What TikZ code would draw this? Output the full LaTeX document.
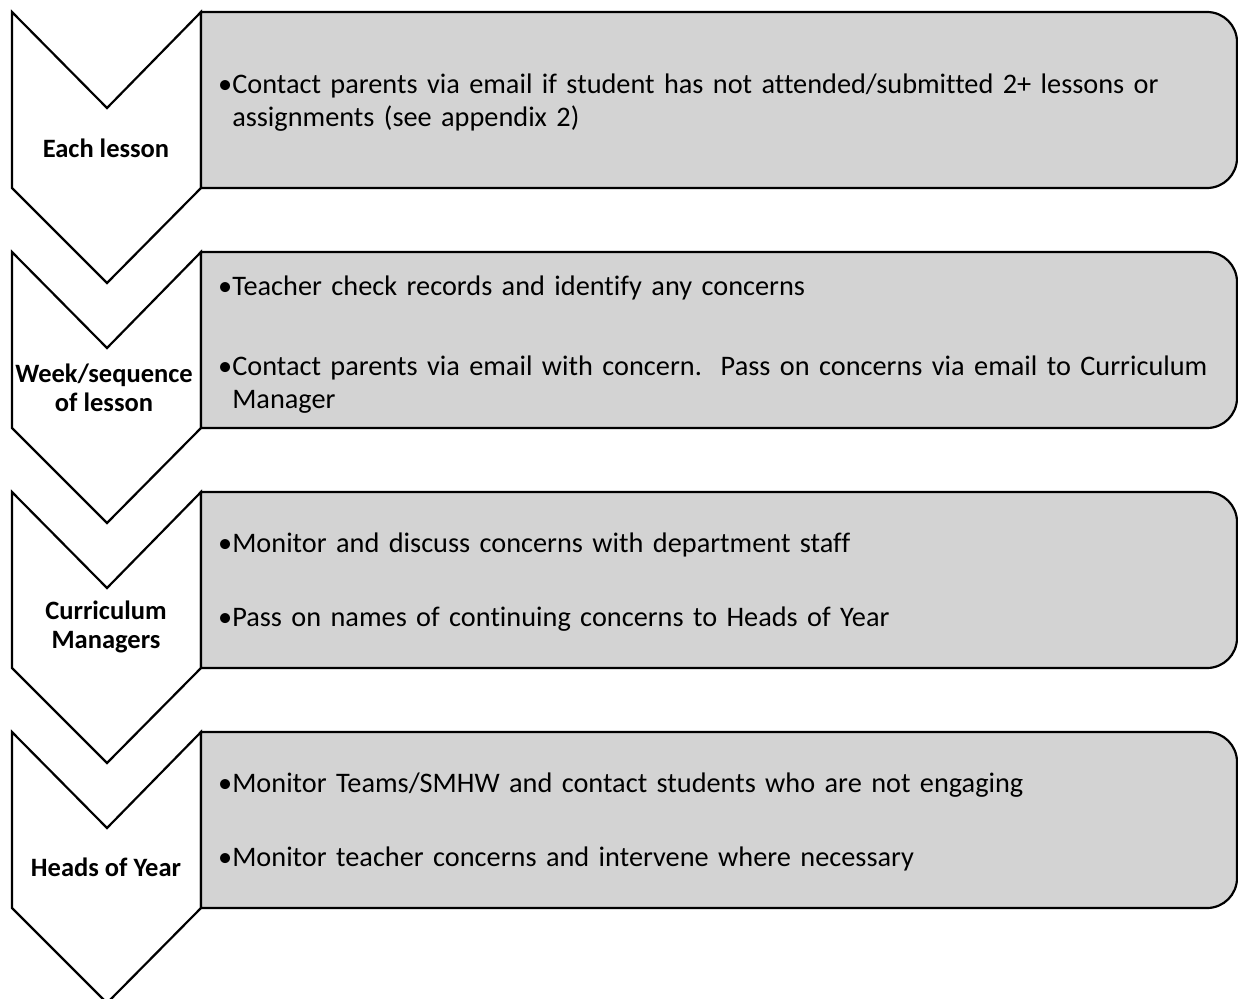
\documentclass[tikz,border=0pt]{standalone}
\usepackage{fontspec}
\setmainfont{Carlito}[Ligatures=NoCommon]
\usepackage{tikz}
\definecolor{panelgray}{RGB}{211,211,211}
\newcommand{\pointfont}{\fontsize{28.3}{33}\selectfont\frenchspacing\spaceskip=.3333em\relax}
\tikzstyle{chev}=[draw, line width=2.2pt, fill=white, line join=miter]
\tikzstyle{panel}=[draw, line width=2.2pt, fill=panelgray]
\tikzstyle{stage}=[align=center, inner sep=0pt, font=\bfseries\fontsize{26.5}{29}\selectfont]
\tikzstyle{point}=[anchor=base west, inner sep=0pt, font=\pointfont]
\newcommand{\bulletpt}[1]{\begin{tabular}[t]{@{}l@{}l@{}}\textbullet&#1\end{tabular}}

\begin{document}
\begin{tikzpicture}[x=1pt,y=-1pt]
\useasboundingbox (0,0) rectangle (1238,998);

% chevrons down the left
\draw[chev] (12,12) -- (107,108) -- (201,12) -- (201,188) -- (107,283) -- (12,188) -- cycle;
\draw[chev] (12,252) -- (107,348) -- (201,252) -- (201,428) -- (107,523) -- (12,428) -- cycle;
\draw[chev] (12,492) -- (107,588) -- (201,492) -- (201,668) -- (107,763) -- (12,668) -- cycle;
\draw[chev] (12,732) -- (107,828) -- (201,732) -- (201,908) -- (107,1003) -- (12,908) -- cycle;

% grey panels, right side rounded
\draw[panel] (201,12) -- (1207,12) .. controls (1223.6,12) and (1237,25.4) .. (1237,42)
  -- (1237,158) .. controls (1237,174.6) and (1223.6,188) .. (1207,188) -- (201,188) -- cycle;
\draw[panel] (201,252) -- (1207,252) .. controls (1223.6,252) and (1237,265.4) .. (1237,282)
  -- (1237,398) .. controls (1237,414.6) and (1223.6,428) .. (1207,428) -- (201,428) -- cycle;
\draw[panel] (201,492) -- (1207,492) .. controls (1223.6,492) and (1237,505.4) .. (1237,522)
  -- (1237,638) .. controls (1237,654.6) and (1223.6,668) .. (1207,668) -- (201,668) -- cycle;
\draw[panel] (201,732) -- (1207,732) .. controls (1223.6,732) and (1237,745.4) .. (1237,762)
  -- (1237,878) .. controls (1237,894.6) and (1223.6,908) .. (1207,908) -- (201,908) -- cycle;

% stage labels
\node[stage] (lesson) at (106,148) {Each lesson};
\node[stage] (week) at (104,388) {Week/sequence\\of lesson};
\node[stage] (cm) at (106,627) {Curriculum\\Managers};
\node[stage] (hoy) at (106,867) {Heads of Year};

% actions
\node[point] (lesson1) at (218,93.5) {\bulletpt{Contact parents via email if student has not attended/submitted 2+ lessons or\\&assignments (see appendix 2)}};
\node[point] (week1) at (218,295) {\bulletpt{Teacher check records and identify any concerns}};
\node[point] (week2) at (218,375) {\bulletpt{Contact parents via email with concern.\ \ Pass on concerns via email to Curriculum\\&Manager}};
\node[point] (cm1) at (218,552) {\bulletpt{Monitor and discuss concerns with department staff}};
\node[point] (cm2) at (218,626) {\bulletpt{Pass on names of continuing concerns to Heads of Year}};
\node[point] (hoy1) at (218,792) {\bulletpt{Monitor Teams/SMHW and contact students who are not engaging}};
\node[point] (hoy2) at (218,866) {\bulletpt{Monitor teacher concerns and intervene where necessary}};
\end{tikzpicture}
\end{document}
